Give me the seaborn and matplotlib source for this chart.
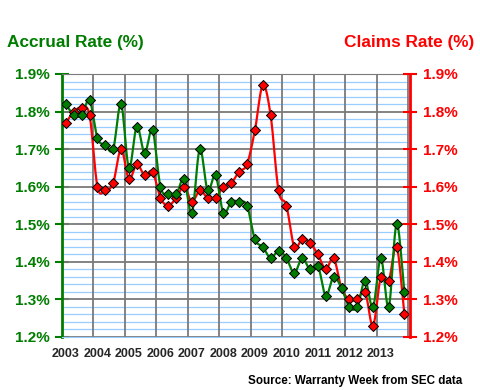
import numpy as np
import pandas as pd
import matplotlib
matplotlib.use("Agg")
import matplotlib.pyplot as plt
import seaborn as sns
from matplotlib.ticker import MultipleLocator, FixedLocator, FuncFormatter, NullFormatter

# quarterly warranty rates, 2003 Q1 .. 2013 Q4
years = list(range(2003, 2014))
accrual_rate = [1.82, 1.79, 1.79, 1.83, 1.73, 1.71, 1.70, 1.82,
                1.65, 1.76, 1.69, 1.75, 1.60, 1.58, 1.58, 1.62,
                1.53, 1.70, 1.59, 1.63, 1.53, 1.56, 1.56, 1.55,
                1.46, 1.44, 1.41, 1.43, 1.41, 1.37, 1.41, 1.38,
                1.39, 1.31, 1.36, 1.33, 1.28, 1.28, 1.35, 1.28,
                1.41, 1.28, 1.50, 1.32]
claims_rate = [1.77, 1.80, 1.81, 1.79, 1.60, 1.59, 1.61, 1.70,
               1.62, 1.66, 1.63, 1.64, 1.57, 1.55, 1.57, 1.60,
               1.56, 1.59, 1.57, 1.57, 1.60, 1.61, 1.64, 1.66,
               1.75, 1.87, 1.79, 1.59, 1.55, 1.44, 1.46, 1.45,
               1.42, 1.38, 1.41, 1.33, 1.30, 1.30, 1.32, 1.23,
               1.36, 1.35, 1.44, 1.26]
rate_ticks = [1.2, 1.3, 1.4, 1.5, 1.6, 1.7, 1.8, 1.9]

GREEN = "#007D00"
RED = "#FF0000"
GRID = "#7A7A7A"

quarters = 2003 + (np.arange(len(accrual_rate)) + 0.5) / 4
df = pd.DataFrame({"quarter": quarters, "accrual": accrual_rate, "claims": claims_rate})


def smooth(x, y, n=12):
    # catmull-rom curve through the points, like excel's smoothed line
    res = []
    for p in (np.asarray(x, float), np.asarray(y, float)):
        p = np.concatenate([[2 * p[0] - p[1]], p, [2 * p[-1] - p[-2]]])
        t = np.linspace(0, 1, n, endpoint=False)[:, None]
        p0, p1, p2, p3 = p[:-3], p[1:-2], p[2:-1], p[3:]
        seg = 0.5 * (2 * p1 + (-p0 + p2) * t + (2 * p0 - 5 * p1 + 4 * p2 - p3) * t ** 2
                     + (-p0 + 3 * p1 - 3 * p2 + p3) * t ** 3)
        res.append(np.concatenate([seg.T.ravel(), [p[-2]]]))
    return pd.DataFrame({"x": res[0], "y": res[1]})


sns.set_style("white")
plt.rcParams["font.family"] = ["Liberation Sans", "DejaVu Sans"]

fig = plt.figure(figsize=(4.8, 3.9), dpi=100)
ax = fig.add_axes([62 / 480, 1 - 337 / 390, 348 / 480, 263 / 390])
ax2 = ax.twinx()

for col, color in [("claims", RED), ("accrual", GREEN)]:
    curve = smooth(df["quarter"], df[col])
    sns.lineplot(data=curve, x="x", y="y", sort=False, estimator=None, color=color,
                 lw=1.6, ax=ax, zorder=3)
    sns.scatterplot(data=df, x="quarter", y=col, marker="D", s=26, color=color,
                    edgecolor="black", linewidth=0.7, ax=ax, zorder=4)

for a in (ax, ax2):
    a.set_ylim(rate_ticks[0], rate_ticks[-1])
    a.set_xlim(2003, 2014.05)
    a.yaxis.set_major_locator(FixedLocator(rate_ticks))
    a.yaxis.set_major_formatter(FuncFormatter(lambda v, p: f"{v:.1f}%"))
    a.set_ylabel("")
    a.set_xlabel("")

# grid: light blue every 0.02 %, gray at each 0.1 % and each year
ax.yaxis.set_minor_locator(MultipleLocator(0.02))
ax.set_axisbelow(True)
ax.grid(False)
ax.yaxis.grid(True, which="minor", color="#99CCFF", lw=0.9)
for v in rate_ticks:
    ax.axhline(v, color=GRID, lw=1.3, zorder=2)
for yr in years + [years[-1] + 1]:
    ax.axvline(yr, color=GRID, lw=1.3, zorder=2)

ax.xaxis.set_major_locator(FixedLocator(years + [years[-1] + 1]))
ax.xaxis.set_major_formatter(NullFormatter())
ax.set_xticks([y + 0.125 for y in years], [str(y) for y in years], minor=True)
ax.tick_params(axis="x", which="major", direction="out", length=4, color="#888888", width=1)
ax.tick_params(axis="x", which="minor", length=0, pad=8, labelsize=9)
for lbl in ax.get_xticklabels(minor=True):
    lbl.set_fontweight("bold")

ax.tick_params(axis="y", which="major", direction="inout", length=10, width=1.5,
               color=GREEN, labelcolor=GREEN, labelsize=11, pad=4, left=True)
ax.tick_params(axis="y", which="minor", length=0)
ax2.tick_params(axis="y", which="major", direction="inout", length=10, width=1.5,
                color=RED, labelcolor=RED, labelsize=11, pad=4, right=True)
for lbl in ax.get_yticklabels() + ax2.get_yticklabels():
    lbl.set_fontweight("bold")

ax.spines["left"].set_color(GREEN)
ax.spines["left"].set_linewidth(2)
ax.spines["right"].set_visible(False)
ax.spines["top"].set_color(GRID)
ax.spines["bottom"].set_color("#99CCFF")
ax2.spines["right"].set_color(RED)
ax2.spines["right"].set_linewidth(2)
for s in ("left", "top", "bottom"):
    ax2.spines[s].set_visible(False)

fig.text(7 / 480, 1 - 43 / 390, "Accrual Rate (%)", color=GREEN, fontsize=12.4,
         fontweight="bold", va="center", ha="left")
fig.text(474 / 480, 1 - 43 / 390, "Claims Rate (%)", color=RED, fontsize=12.4,
         fontweight="bold", va="center", ha="right")
fig.text(462 / 480, 1 - 381 / 390, "Source: Warranty Week from SEC data", color="black",
         fontsize=8.4, fontweight="bold", va="center", ha="right")

fig.savefig("out.png", dpi=100)
